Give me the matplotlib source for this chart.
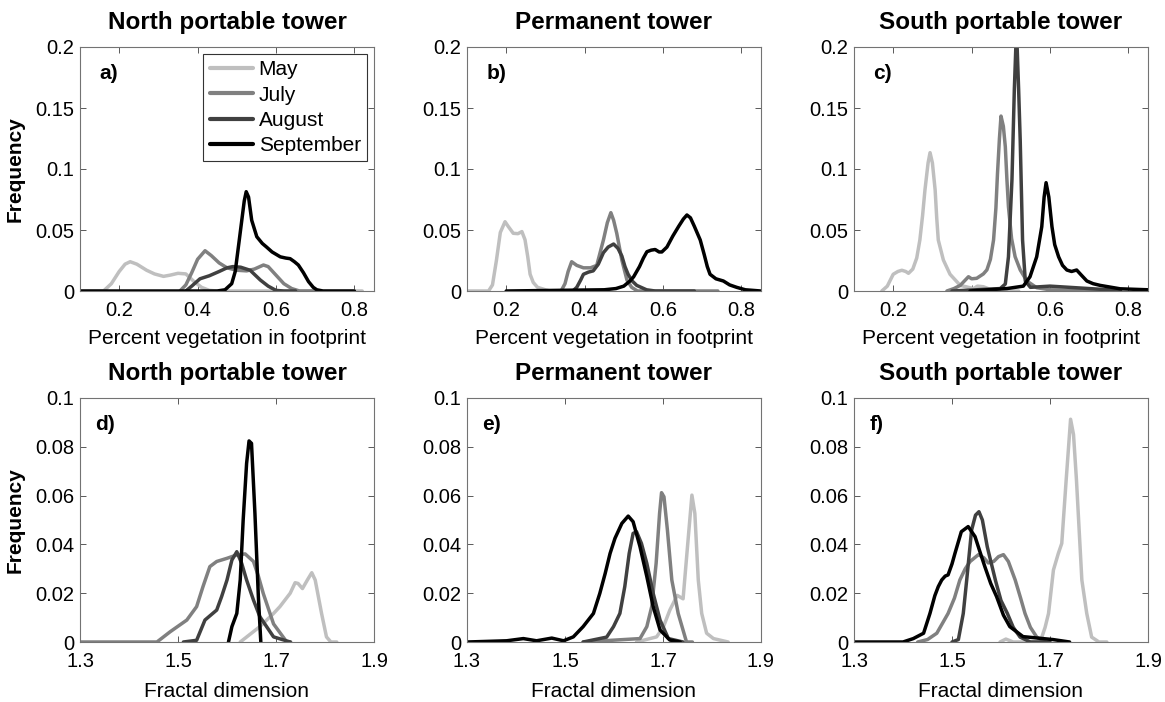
import matplotlib
matplotlib.use("Agg")
import matplotlib.pyplot as plt
import numpy as np
from matplotlib.ticker import FormatStrFormatter

plt.rcParams['font.family'] = ['Liberation Sans', 'DejaVu Sans']

months = ['May', 'July', 'August', 'September']
month_colors = ['0.75', '0.5', '0.25', '0.0']
towers = ['North portable tower', 'Permanent tower', 'South portable tower']
panel_tags = ['a)', 'b)', 'c)', 'd)', 'e)', 'f)']

# frequency curves, (value, frequency) pairs
# percent vegetation in footprint
veg_north_may = [(0.10, 0), (0.16, 0), (0.18, 0.006), (0.20, 0.016), (0.215, 0.022), (0.228, 0.024),
                 (0.245, 0.022), (0.27, 0.017), (0.29, 0.014), (0.313, 0.012), (0.33, 0.013),
                 (0.35, 0.0145), (0.37, 0.014), (0.39, 0.008), (0.41, 0.003), (0.43, 0.0005),
                 (0.45, 0), (0.82, 0)]
veg_north_jul = [(0.355, 0), (0.37, 0.005), (0.385, 0.015), (0.40, 0.026), (0.419, 0.033),
                 (0.435, 0.029), (0.455, 0.023), (0.475, 0.019), (0.50, 0.017), (0.525, 0.0165),
                 (0.545, 0.018), (0.568, 0.0213), (0.58, 0.02), (0.60, 0.013), (0.62, 0.006),
                 (0.64, 0.002), (0.66, 0), (0.70, 0)]
veg_north_aug = [(0.37, 0), (0.385, 0.004), (0.406, 0.010), (0.43, 0.0125), (0.455, 0.016),
                 (0.475, 0.019), (0.49, 0.020), (0.51, 0.0195), (0.534, 0.017), (0.56, 0.009),
                 (0.58, 0.004), (0.60, 0.0005), (0.62, 0), (0.65, 0)]
veg_north_sep = [(0.10, 0), (0.45, 0), (0.47, 0.001), (0.487, 0.006), (0.496, 0.016),
                 (0.506, 0.041), (0.519, 0.0738), (0.524, 0.0814), (0.530, 0.077), (0.538, 0.058),
                 (0.551, 0.0445), (0.565, 0.039), (0.576, 0.036), (0.59, 0.032), (0.611, 0.028),
                 (0.625, 0.027), (0.636, 0.0265), (0.647, 0.024), (0.657, 0.0213), (0.67, 0.015),
                 (0.683, 0.0077), (0.695, 0.003), (0.704, 0.001), (0.72, 0), (0.80, 0)]

veg_perm_may = [(0.10, 0), (0.155, 0), (0.165, 0.005), (0.175, 0.025), (0.185, 0.048),
                (0.197, 0.0568), (0.205, 0.053), (0.218, 0.0473), (0.23, 0.047), (0.24, 0.0487),
                (0.248, 0.042), (0.255, 0.028), (0.261, 0.0137), (0.269, 0.007), (0.28, 0.003),
                (0.30, 0.001), (0.312, 0), (0.36, 0)]
veg_perm_jul = [(0.34, 0), (0.35, 0.006), (0.358, 0.016), (0.367, 0.024), (0.38, 0.021),
                (0.397, 0.019), (0.415, 0.019), (0.431, 0.021), (0.448, 0.0418), (0.458, 0.056),
                (0.467, 0.0642), (0.474, 0.058), (0.482, 0.0473), (0.495, 0.0254), (0.508, 0.009),
                (0.52, 0.003), (0.535, 0), (0.74, 0)]
veg_perm_aug = [(0.37, 0), (0.38, 0.003), (0.39, 0.009), (0.397, 0.0137), (0.41, 0.0155),
                (0.422, 0.0165), (0.435, 0.022), (0.448, 0.0314), (0.46, 0.036), (0.474, 0.0385),
                (0.485, 0.035), (0.495, 0.0287), (0.503, 0.02), (0.511, 0.0137), (0.522, 0.008),
                (0.533, 0.0046), (0.558, 0.001), (0.58, 0), (0.68, 0)]
veg_perm_sep = [(0.20, 0), (0.45, 0.001), (0.48, 0.002), (0.50, 0.004), (0.515, 0.008),
                (0.525, 0.0116), (0.54, 0.02), (0.55, 0.027), (0.559, 0.0322), (0.57, 0.0335),
                (0.58, 0.034), (0.59, 0.032), (0.597, 0.032), (0.61, 0.036), (0.625, 0.045),
                (0.64, 0.053), (0.652, 0.059), (0.661, 0.0623), (0.67, 0.06), (0.68, 0.053),
                (0.695, 0.0418), (0.705, 0.03), (0.713, 0.02), (0.72, 0.0137), (0.735, 0.010),
                (0.754, 0.0082), (0.77, 0.005), (0.788, 0.003), (0.81, 0.001), (0.85, 0)]

veg_south_may = [(0.171, 0), (0.185, 0.004), (0.200, 0.0137), (0.212, 0.016), (0.222, 0.017),
                 (0.232, 0.016), (0.239, 0.0145), (0.25, 0.018), (0.26, 0.027), (0.268, 0.0418),
                 (0.275, 0.062), (0.281, 0.0828), (0.289, 0.105), (0.294, 0.1134), (0.30, 0.105),
                 (0.307, 0.0828), (0.311, 0.06), (0.315, 0.0418), (0.328, 0.0254), (0.345, 0.0137),
                 (0.371, 0.0046), (0.405, 0.002), (0.415, 0.004), (0.43, 0.0035), (0.45, 0.001),
                 (0.48, 0), (0.52, 0)]
veg_south_jul = [(0.337, 0), (0.355, 0.002), (0.371, 0.0046), (0.392, 0.0117), (0.40, 0.010),
                 (0.413, 0.0104), (0.43, 0.014), (0.439, 0.0173), (0.448, 0.026), (0.456, 0.0418),
                 (0.462, 0.068), (0.466, 0.096), (0.471, 0.125), (0.475, 0.1434), (0.481, 0.135),
                 (0.486, 0.1183), (0.490, 0.092), (0.494, 0.0691), (0.502, 0.043), (0.511, 0.0281),
                 (0.524, 0.0173), (0.541, 0.0082), (0.566, 0.0027), (0.60, 0.001), (0.75, 0)]
veg_south_aug = [(0.35, 0), (0.473, 0.002), (0.486, 0.0057), (0.494, 0.028), (0.503, 0.0915),
                 (0.509, 0.165), (0.5145, 0.215), (0.52, 0.165), (0.524, 0.1238), (0.53, 0.0418),
                 (0.537, 0.0082), (0.55, 0.003), (0.60, 0.004), (0.65, 0.003), (0.70, 0.002),
                 (0.75, 0.001), (0.78, 0)]
veg_south_sep = [(0.396, 0), (0.49, 0.002), (0.532, 0.004), (0.549, 0.0117), (0.566, 0.028),
                 (0.579, 0.0527), (0.585, 0.077), (0.590, 0.0888), (0.597, 0.077), (0.605, 0.0527),
                 (0.612, 0.038), (0.622, 0.028), (0.632, 0.021), (0.643, 0.0172), (0.655, 0.016),
                 (0.668, 0.0172), (0.68, 0.013), (0.694, 0.0082), (0.71, 0.006), (0.728, 0.0046),
                 (0.779, 0.0018), (0.85, 0.001)]

# fractal dimension
fd_north_may = [(1.627, 0), (1.667, 0.0063), (1.695, 0.0117), (1.708, 0.0145), (1.729, 0.020),
                (1.739, 0.0243), (1.745, 0.024), (1.754, 0.0219), (1.764, 0.0254), (1.773, 0.0284),
                (1.780, 0.0254), (1.793, 0.0117), (1.803, 0.0021), (1.812, 0), (1.824, 0)]
fd_north_jul = [(1.30, 0), (1.457, 0), (1.484, 0.0042), (1.518, 0.009), (1.538, 0.0145),
                (1.551, 0.0227), (1.565, 0.0309), (1.579, 0.033), (1.60, 0.0343), (1.62, 0.0357),
                (1.637, 0.0361), (1.654, 0.033), (1.664, 0.027), (1.674, 0.0199), (1.695, 0.0074),
                (1.722, 0), (1.73, 0)]
fd_north_aug = [(1.511, 0), (1.538, 0.0007), (1.555, 0.009), (1.579, 0.0131), (1.589, 0.0186),
                (1.60, 0.0254), (1.610, 0.0336), (1.62, 0.037), (1.630, 0.0322), (1.640, 0.0254),
                (1.654, 0.0172), (1.667, 0.0104), (1.695, 0.0021), (1.729, 0)]
fd_north_sep = [(1.603, 0), (1.610, 0.0063), (1.62, 0.0117), (1.627, 0.0254), (1.633, 0.050),
                (1.640, 0.0732), (1.645, 0.0824), (1.650, 0.0814), (1.657, 0.0527), (1.664, 0.0186),
                (1.669, 0)]

fd_perm_may = [(1.646, 0), (1.687, 0.0021), (1.701, 0.0063), (1.714, 0.0131), (1.729, 0.0191),
               (1.741, 0.0177), (1.750, 0.0391), (1.759, 0.0602), (1.765, 0.0527), (1.772, 0.0254),
               (1.779, 0.0117), (1.789, 0.0036), (1.803, 0.0014), (1.833, 0)]
fd_perm_jul = [(1.537, 0), (1.653, 0.0014), (1.667, 0.0063), (1.677, 0.0145), (1.686, 0.0323),
               (1.693, 0.0527), (1.697, 0.0612), (1.702, 0.0595), (1.709, 0.0459), (1.718, 0.0254),
               (1.731, 0.0117), (1.748, 0), (1.76, 0)]
fd_perm_aug = [(1.537, 0), (1.585, 0.002), (1.599, 0.0063), (1.612, 0.0117), (1.622, 0.0227),
               (1.631, 0.0363), (1.639, 0.0445), (1.646, 0.0452), (1.656, 0.0404), (1.667, 0.0322),
               (1.680, 0.0199), (1.694, 0.009), (1.711, 0.0014), (1.741, 0)]
fd_perm_sep = [(1.30, 0), (1.381, 0.0005), (1.415, 0.0014), (1.442, 0.0005), (1.473, 0.0016),
               (1.497, 0.0005), (1.517, 0.0021), (1.537, 0.0063), (1.558, 0.0117), (1.571, 0.0199),
               (1.582, 0.0281), (1.592, 0.0363), (1.602, 0.0425), (1.616, 0.0486), (1.629, 0.0516),
               (1.639, 0.0493), (1.653, 0.0391), (1.667, 0.0268), (1.680, 0.0145), (1.694, 0.0049),
               (1.714, 0.0008), (1.735, 0)]

fd_south_may = [(1.598, 0), (1.61, 0.0012), (1.625, 0), (1.68, 0), (1.69, 0.006), (1.697, 0.0117),
                (1.707, 0.0295), (1.717, 0.0363), (1.724, 0.0404), (1.733, 0.0664), (1.742, 0.0913),
                (1.748, 0.085), (1.754, 0.0664), (1.765, 0.0254), (1.775, 0.0117), (1.785, 0.002),
                (1.80, 0), (1.816, 0)]
fd_south_jul = [(1.43, 0), (1.45, 0.001), (1.469, 0.0036), (1.492, 0.0117), (1.505, 0.018),
                (1.516, 0.0254), (1.527, 0.030), (1.537, 0.033), (1.554, 0.0358), (1.565, 0.0345),
                (1.574, 0.0324), (1.585, 0.033), (1.595, 0.035), (1.605, 0.0358), (1.615, 0.033),
                (1.629, 0.0254), (1.64, 0.018), (1.649, 0.0117), (1.66, 0.006), (1.673, 0.002),
                (1.69, 0)]
fd_south_aug = [(1.50, 0), (1.513, 0.001), (1.523, 0.0117), (1.530, 0.0254), (1.540, 0.0459),
                (1.548, 0.052), (1.555, 0.0534), (1.562, 0.05), (1.572, 0.039), (1.589, 0.025),
                (1.60, 0.017), (1.613, 0.0117), (1.625, 0.006), (1.639, 0.002), (1.66, 0),
                (1.70, 0)]
fd_south_sep = [(1.30, 0), (1.40, 0), (1.421, 0.0014), (1.442, 0.0036), (1.455, 0.0117),
                (1.465, 0.019), (1.472, 0.0227), (1.479, 0.0254), (1.486, 0.027), (1.492, 0.0275),
                (1.50, 0.032), (1.506, 0.0363), (1.519, 0.0452), (1.533, 0.0473), (1.547, 0.0432),
                (1.557, 0.037), (1.567, 0.0309), (1.579, 0.024), (1.591, 0.0186), (1.605, 0.011),
                (1.618, 0.0063), (1.645, 0.0022), (1.706, 0.001), (1.74, 0)]

veg_curves = [[veg_north_may, veg_north_jul, veg_north_aug, veg_north_sep],
              [veg_perm_may, veg_perm_jul, veg_perm_aug, veg_perm_sep],
              [veg_south_may, veg_south_jul, veg_south_aug, veg_south_sep]]
fd_curves = [[fd_north_may, fd_north_jul, fd_north_aug, fd_north_sep],
             [fd_perm_may, fd_perm_jul, fd_perm_aug, fd_perm_sep],
             [fd_south_may, fd_south_jul, fd_south_aug, fd_south_sep]]

veg_xticks = [0.2, 0.4, 0.6, 0.8]
veg_yticks = [0, 0.05, 0.1, 0.15, 0.2]
fd_xticks = [1.3, 1.5, 1.7, 1.9]
fd_yticks = [0, 0.02, 0.04, 0.06, 0.08, 0.1]

fig = plt.figure(figsize=(11.65, 7.02), dpi=100)

lefts = [80 / 1165, 467 / 1165, 854 / 1165]
bottoms = [1 - 291 / 702, 1 - 642 / 702]
w, h = 294 / 1165, 244 / 702


def style_axes(ax):
    for sp in ax.spines.values():
        sp.set_color('0.45')
        sp.set_linewidth(0.8)
    ax.tick_params(direction='in', top=True, right=True, length=4, width=0.7,
                   color='0.35', labelsize=14.5, pad=7)
    ax.tick_params(axis='y', pad=4)


for row in range(2):
    for col in range(3):
        ax = fig.add_axes([lefts[col], bottoms[row], w, h])
        curves = veg_curves[col] if row == 0 else fd_curves[col]
        for pts, name, c in zip(curves, months, month_colors):
            arr = np.array(pts)
            ax.plot(arr[:, 0], arr[:, 1], color=c, lw=2.5, label=name,
                    solid_joinstyle='round', solid_capstyle='round')
        style_axes(ax)
        if row == 0:
            ax.set_xlim(0.1, 0.85)
            ax.set_ylim(0, 0.2)
            ax.set_xticks(veg_xticks)
            ax.set_yticks(veg_yticks)
            ax.xaxis.set_major_formatter(FormatStrFormatter('%g'))
            ax.set_xlabel('Percent vegetation in footprint', fontsize=15, labelpad=7)
            tag_x = 0.065
        else:
            ax.set_xlim(1.3, 1.9)
            ax.set_ylim(0, 0.1)
            ax.set_xticks(fd_xticks)
            ax.set_yticks(fd_yticks)
            ax.xaxis.set_major_formatter(FormatStrFormatter('%g'))
            ax.set_xlabel('Fractal dimension', fontsize=15, labelpad=8)
            tag_x = 0.052
        ax.yaxis.set_major_formatter(FormatStrFormatter('%g'))
        ax.set_title(towers[col], fontsize=17.5, fontweight='bold', pad=13)
        ax.text(tag_x, 0.89, panel_tags[row * 3 + col], transform=ax.transAxes,
                fontsize=15, fontweight='bold', va='center', ha='left')
        if col == 0:
            ax.set_ylabel('Frequency', fontsize=15, fontweight='bold')
            ax.yaxis.set_label_coords(-0.19, 0.5)
        if row == 0 and col == 0:
            leg = ax.legend(loc='upper right', bbox_to_anchor=(0.976, 0.971),
                            borderaxespad=0, fontsize=15, handlelength=2.1,
                            handletextpad=0.25, labelspacing=0.3, fancybox=False,
                            borderpad=0.3, framealpha=1)
            leg.get_frame().set_edgecolor('0.2')
            leg.get_frame().set_linewidth(0.8)
            for line in leg.get_lines():
                line.set_linewidth(3)

fig.savefig('out.png', dpi=100)
